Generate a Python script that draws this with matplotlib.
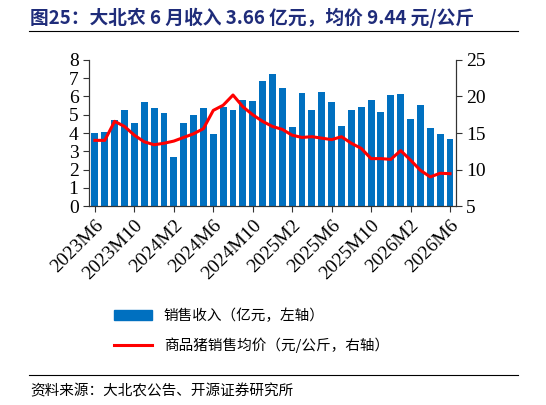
import matplotlib
matplotlib.use("Agg")
import matplotlib.pyplot as plt
from matplotlib.lines import Line2D
from matplotlib.patches import Patch

months = [f"{y}M{m}" for y, m in
          [(2023, m) for m in range(6, 13)] + [(2024, m) for m in range(1, 13)] +
          [(2025, m) for m in range(1, 13)] + [(2026, m) for m in range(1, 7)]]
revenue = [4.0, 4.05, 4.71, 5.28, 4.53, 5.68, 5.35, 5.08, 2.68, 4.53, 4.99, 5.37, 3.93,
           5.44, 5.26, 5.81, 5.74, 6.87, 7.21, 6.45, 4.31, 6.17, 5.24, 6.25, 5.72, 4.38,
           5.24, 5.42, 5.8, 5.13, 6.08, 6.15, 4.77, 5.52, 4.27, 3.96, 3.66]
price = [14.0, 14.0, 16.6, 15.9, 14.7, 13.8, 13.4, 13.6, 13.9, 14.4, 14.9, 15.6, 18.1,
         18.8, 20.2, 18.6, 17.5, 16.6, 15.9, 15.5, 14.7, 14.4, 14.5, 14.3, 14.1, 14.5,
         13.6, 12.9, 11.5, 11.5, 11.4, 12.6, 11.3, 9.9, 9.0, 9.5, 9.44]

serif = "Liberation Serif"
cjk = ["Noto Sans CJK SC", "DejaVu Sans"]
fig = plt.figure(figsize=(5.46, 4.05), dpi=100)
ax = fig.add_axes([0.163, 0.491, 0.672, 0.361])
x = list(range(len(months)))
ax.bar(x, revenue, width=0.7, color="#0070C0")
ax.set_ylim(0, 8)
ax.set_xlim(-0.6, len(months) - 0.4)
ax2 = ax.twinx()
ax2.plot(x, price, color="#FF0000", lw=2.2)
ax2.set_ylim(5, 25)
ax2.set_yticks([5, 10, 15, 20, 25])
ax.set_yticks(range(9))
tick_idx = list(range(0, len(months), 4))
ax.set_xticks(tick_idx)
ax.set_xticklabels([months[i] for i in tick_idx], rotation=45, ha="right",
                   rotation_mode="anchor", fontfamily=serif, fontsize=14)
for a in (ax, ax2):
    a.spines["top"].set_visible(False)
    for s in a.spines.values():
        s.set_color("#333333")
    a.tick_params(axis="y", labelsize=14, length=4, color="#333333")
    a.tick_params(axis="x", length=4, color="#333333")
    for lab in a.get_yticklabels():
        lab.set_fontfamily(serif)

fig.text(0.055, 0.955, "图25：大北农 6 月收入 3.66 亿元，均价 9.44 元/公斤",
         fontsize=13.5, fontweight="bold", color="#1F2C7A", family=cjk, va="center")
fig.add_artist(Line2D([0.053, 0.948], [0.923, 0.923], color="black", lw=0.8))
fig.add_artist(Line2D([0.053, 0.948], [0.074, 0.074], color="black", lw=0.8))
handles = [Patch(color="#0070C0"), Line2D([], [], color="#FF0000", lw=2.2)]
fig.legend(handles, ["销售收入（亿元，左轴）", "商品猪销售均价（元/公斤，右轴）"],
           loc="upper left", bbox_to_anchor=(0.185, 0.27), frameon=False,
           prop={"family": cjk, "size": 10.5}, handlelength=2.6, labelspacing=1.0)
fig.text(0.055, 0.035, "资料来源：大北农公告、开源证券研究所", fontsize=10.5,
         family=cjk, va="center")
fig.savefig("out.png", dpi=100)
